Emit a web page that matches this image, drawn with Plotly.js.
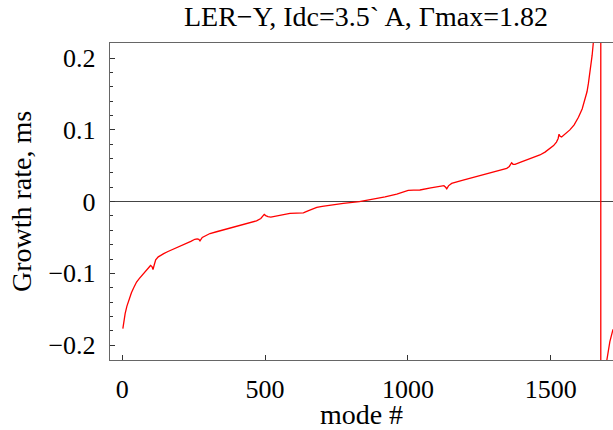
<!DOCTYPE html>
<html>
<head>
<meta charset="utf-8">
<script src="https://cdn.plot.ly/plotly-3.0.1.min.js"></script>
<style>html,body{margin:0;padding:0;background:#fff;}#chart{width:613px;height:430px;}</style>
</head>
<body>
<div id="chart"></div>
<script>
// mode numbers (x) and growth rates in ms^-1 (y)
var modeNumber = [2, 6, 10, 16, 24, 32, 40, 50, 60, 70, 80, 90, 99, 104, 107.5, 112, 117, 126, 135, 145, 160, 175, 192, 210, 221, 240, 254, 262, 268, 272, 280, 290, 307, 330, 367, 420, 470, 485, 493, 497, 502, 510, 520, 550, 587, 610, 634, 650, 665, 681, 700, 727, 774, 830, 879, 920, 961, 985, 1001, 1020, 1042, 1080, 1112, 1126, 1132, 1136, 1142, 1153, 1190, 1229, 1290, 1346, 1355, 1360, 1363, 1368, 1375, 1395, 1416, 1440, 1462, 1480, 1497, 1510, 1520, 1526, 1529, 1533, 1538, 1550, 1567, 1582, 1597, 1610, 1620, 1627, 1632, 1636, 1640, 1645, 1649, 1656, 1663, 1668, 1672, 1674.5, 1675, 1675.5, 1680, 1686, 1691, 1696, 1707, 1718];
var growthRate = [-0.177, -0.165, -0.156, -0.146, -0.136, -0.127, -0.120, -0.112, -0.107, -0.102, -0.097, -0.093, -0.089, -0.0905, -0.0947, -0.088, -0.081, -0.077, -0.0745, -0.0725, -0.0695, -0.067, -0.064, -0.061, -0.059, -0.0555, -0.0525, -0.052, -0.0527, -0.0547, -0.050, -0.0477, -0.0445, -0.042, -0.038, -0.0325, -0.0268, -0.0235, -0.0205, -0.0179, -0.0195, -0.021, -0.0215, -0.019, -0.0165, -0.016, -0.0156, -0.013, -0.0105, -0.0081, -0.0065, -0.0049, -0.0026, 0.0, 0.003, 0.0065, 0.0105, 0.0135, 0.0156, 0.016, 0.0162, 0.019, 0.0216, 0.0222, 0.020, 0.0179, 0.022, 0.0254, 0.0295, 0.0338, 0.040, 0.0464, 0.049, 0.0525, 0.0542, 0.052, 0.052, 0.055, 0.058, 0.0615, 0.065, 0.069, 0.0743, 0.078, 0.083, 0.088, 0.0939, 0.091, 0.090, 0.094, 0.0999, 0.107, 0.1176, 0.129, 0.1418, 0.153, 0.165, 0.176, 0.188, 0.204, 0.221, 0.27, 0.36, 0.5, 0.9, 3, 50, -50, -2, -0.6, -0.35, -0.222, -0.195, -0.178];

var xTickVals = [0, 500, 1000, 1500];
var yTickVals = [-0.2, -0.1, 0, 0.1, 0.2];
var yTickText = ['\u22120.2', '\u22120.1', '0', '0.1', '0.2'];

var serif = 'Liberation Serif, Times New Roman, serif';

var trace = {
  x: modeNumber,
  y: growthRate,
  type: 'scatter',
  mode: 'lines',
  line: {color: '#ff0000', width: 1.3},
  hoverinfo: 'x+y'
};

var layout = {
  width: 613,
  height: 430,
  margin: {l: 110, r: 0, t: 43, b: 70},
  paper_bgcolor: '#ffffff',
  plot_bgcolor: '#ffffff',
  showlegend: false,
  font: {family: serif, size: 26, color: '#000'},
  title: {
    text: 'LER\u2212Y, Idc=3.5` A, \u0393max=1.82',
    font: {family: serif, size: 28, color: '#000'},
    x: 0.597, xref: 'container', xanchor: 'center',
    y: 0.962, yref: 'container', yanchor: 'middle'
  },
  xaxis: {
    range: [-43, 1718],
    tickvals: xTickVals,
    ticktext: xTickVals.map(String),
    ticks: 'inside', ticklen: 5, tickwidth: 1, tickcolor: '#333',
    showline: true, linecolor: '#666', linewidth: 1.2, mirror: true,
    showgrid: false, zeroline: false,
    ticklabelstandoff: 6,
    tickfont: {family: serif, size: 26, color: '#000'},
    title: {text: 'mode #', font: {family: serif, size: 28, color: '#000'}, standoff: 2},
    automargin: false
  },
  yaxis: {
    range: [-0.2207, 0.221],
    tickvals: yTickVals,
    ticktext: yTickText,
    ticks: 'inside', ticklen: 5, tickwidth: 1, tickcolor: '#333',
    minor: {dtick: 0.02, ticks: 'inside', ticklen: 3, tickcolor: '#333', showgrid: false},
    showline: true, linecolor: '#666', linewidth: 1.2, mirror: true,
    showgrid: false,
    zeroline: true, zerolinecolor: '#444', zerolinewidth: 1.1,
    ticklabelstandoff: 8,
    tickfont: {family: serif, size: 26, color: '#000'},
    title: {text: 'Growth rate, ms', font: {family: serif, size: 28, color: '#000'}, standoff: 8},
    automargin: false
  }
};

Plotly.newPlot('chart', [trace], layout, {staticPlot: true, displayModeBar: false});
</script>
</body>
</html>
